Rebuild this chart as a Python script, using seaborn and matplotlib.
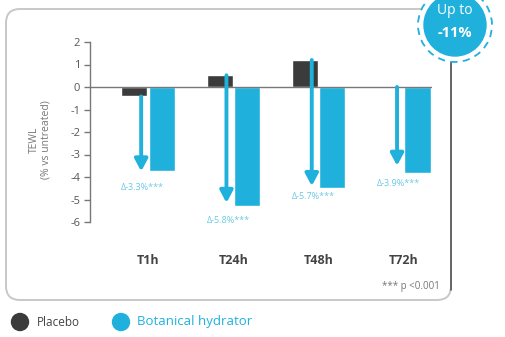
import matplotlib
matplotlib.use("Agg")
import matplotlib.pyplot as plt
import seaborn as sns
import pandas as pd
from matplotlib.patches import FancyBboxPatch, Circle

times = ["T1h", "T24h", "T48h", "T72h"]
placebo = [-0.42, 0.52, 1.2, 0.05]
botanical = [-3.75, -5.3, -4.5, -3.8]
arrow_start = [-0.42, 0.52, 1.2, 0.0]
arrow_end = [-3.75, -5.15, -4.4, -3.5]
delta_labels = ["Δ-3.3%***", "Δ-5.8%***", "Δ-5.7%***", "Δ-3.9%***"]
label_y = [-4.45, -5.95, -4.85, -4.3]
yticks = [2, 1, 0, -1, -2, -3, -4, -5, -6]

DARK = "#3b3b3b"
BLUE = "#1fb1dc"
LBLUE = "#6cc9e3"

sns.set_theme(style="white")
plt.rcParams["font.family"] = ["Open Sans", "DejaVu Sans"]

W, H = 506, 337
fig = plt.figure(figsize=(W / 100, H / 100), dpi=100)

# background axes in pixel coords
bg = fig.add_axes([0, 0, 1, 1], zorder=0)
bg.set_xlim(0, W)
bg.set_ylim(H, 0)
bg.axis("off")
box = FancyBboxPatch((6, 9), 445, 291, boxstyle="round,pad=0,rounding_size=14",
                     facecolor="white", edgecolor="#c8c8c8", lw=1.4)
bg.add_patch(box)
bg.plot([451, 451], [60, 290], color="#555555", lw=1.2)
bg.text(440, 287, "*** p <0.001", ha="right", va="center", fontsize=7, color="#777777")
# legend
bg.add_patch(Circle((20, 322), 8.5, color=DARK))
bg.text(37, 322, "Placebo", ha="left", va="center", fontsize=8.5, color="#444444")
bg.add_patch(Circle((121, 322), 8.5, color=BLUE))
bg.text(137, 322, "Botanical hydrator", ha="left", va="center", fontsize=9.5, color=BLUE)
bg.text(40, 140, "TEWL\n(% vs untreated)", rotation=90, ha="center", va="center",
        fontsize=7.5, color="#777777", linespacing=1.1)

# main axes
left, right = 90, 432
top, bottom = 42, 222
ax = fig.add_axes([left / W, 1 - bottom / H, (right - left) / W, (bottom - top) / H], zorder=2)
ax.patch.set_alpha(0)

df = pd.DataFrame({
    "time": times * 2,
    "value": placebo + botanical,
    "group": ["Placebo"] * 4 + ["Botanical hydrator"] * 4,
})
sns.barplot(data=df, x="time", y="value", hue="group", palette=[DARK, BLUE],
            width=0.64, gap=0.04, saturation=1, legend=False, ax=ax, zorder=2)

ax.axhline(0, color="#777777", lw=1, zorder=3)
for i in range(4):
    x = i - 0.08
    ax.annotate("", xy=(x, arrow_end[i]), xytext=(x, arrow_start[i]),
                arrowprops=dict(arrowstyle="-|>,head_width=0.32,head_length=0.6",
                                color=BLUE, lw=2.8, shrinkA=0, shrinkB=0), zorder=4)
    ax.text(x + 0.02, label_y[i], delta_labels[i], ha="center", va="center",
            fontsize=6.5, color=LBLUE, zorder=5)

ax.set_xlim(-0.68, 3.33)
ax.set_ylim(-6, 2)
ax.set_yticks(yticks)
ax.set_yticklabels([str(t) for t in yticks], fontsize=8, color="#555555")
ax.set_xlabel("")
ax.set_ylabel("")
for s in ["top", "right", "bottom"]:
    ax.spines[s].set_visible(False)
ax.spines["left"].set_color("#777777")
ax.spines["left"].set_linewidth(1)
ax.tick_params(axis="y", left=True, length=4, width=1, color="#777777", pad=3)
ax.tick_params(axis="x", bottom=False, pad=17)
for lab in ax.get_xticklabels():
    lab.set_fontsize(9)
    lab.set_fontweight("bold")
    lab.set_color("#444444")

# badge overlay
ov = fig.add_axes([0, 0, 1, 1], zorder=10)
ov.set_xlim(0, W)
ov.set_ylim(H, 0)
ov.axis("off")
ov.patch.set_alpha(0)
ov.add_patch(Circle((455, 25), 37, facecolor="white", edgecolor=BLUE, lw=1.3, ls=(0, (4, 3))))
ov.add_patch(Circle((455, 25), 31, color=BLUE))
ov.text(455, 11, "Up to", ha="center", va="center", fontsize=10, color="white")
ov.text(455, 33, "-11%", ha="center", va="center", fontsize=10.5, color="white", fontweight="bold")

fig.savefig("out.png", dpi=100)
